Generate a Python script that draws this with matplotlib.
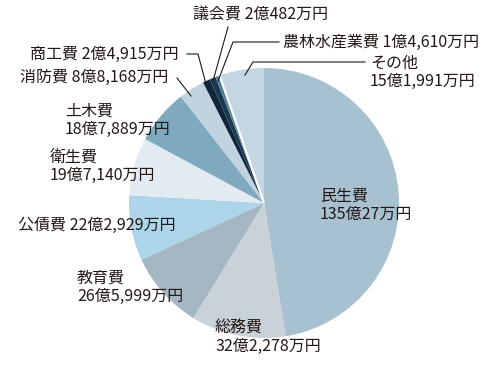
import numpy as np
import matplotlib.pyplot as plt

plt.rcParams['font.family'] = ['Noto Sans CJK JP', 'DejaVu Sans']

# 歳出の内訳（単位：万円）
categories = ["民生費", "総務費", "教育費", "公債費", "衛生費", "土木費",
              "消防費", "商工費", "議会費", "農林水産業費", "その他"]
values = [1350027, 322278, 265999, 222929, 197140, 187889,
          88168, 24915, 20482, 14610, 151991]
value_labels = ["135億27万円", "32億2,278万円", "26億5,999万円", "22億2,929万円",
                "19億7,140万円", "18億7,889万円", "8億8,168万円", "2億4,915万円",
                "2億482万円", "1億4,610万円", "15億1,991万円"]
colors = ["#a7c1d1", "#c9d1d9", "#a4b7c3", "#acd5ea", "#e3ebf2", "#7ea9bf",
          "#c0d3df", "#11253a", "#1a3a4f", "#4f7f99", "#c4d6e1"]

W, H = 495, 372
fig = plt.figure(figsize=(W / 100, H / 100), dpi=100)
ax = fig.add_axes([0, 0, 1, 1])

cx, cy, r = 264, H - 203, 135
wedges, _ = ax.pie(values, colors=colors, startangle=90, counterclock=False,
                   center=(cx, cy), radius=r, wedgeprops=dict(linewidth=0))

# 農林水産業費とその他の間の白い隙間
th = np.deg2rad(wedges[9].theta1)
ax.plot([cx, cx + r * np.cos(th)], [cy, cy + r * np.sin(th)],
        color="white", lw=1.6, solid_capstyle="butt")

ax.set_xlim(0, W)
ax.set_ylim(0, H)
ax.set_aspect("equal")
ax.axis("off")

tc = "#231815"
fs = 11.5

# (x, y中心) 画像座標でのラベル位置。two=True で2行表示
layout = {
    "民生費": (320, 196, True),
    "総務費": (215, 328, True),
    "教育費": (77, 278, True),
    "公債費": (18, 225, False),
    "衛生費": (50, 157, True),
    "土木費": (65, 111, True),
    "消防費": (20, 77, False),
    "商工費": (30, 54, False),
    "議会費": (193, 14, False),
    "農林水産業費": (283, 42, False),
    "その他": (370, 63, True),
}

for name, lab in zip(categories, value_labels):
    x, y, two = layout[name]
    if two:
        ax.text(x, H - y, name, fontsize=fs, color=tc, va="center", ha="left")
        ax.text(x, H - y - 18, lab, fontsize=fs, color=tc, va="center", ha="left")
    else:
        ax.text(x, H - y, name + " " + lab, fontsize=fs, color=tc,
                va="center", ha="left")

# 引き出し線
leaders = [
    [(228, 27), (213, 81)],
    [(279, 42), (233, 42), (218, 81)],
    [(365, 62), (253, 62), (245, 75)],
    [(187, 54), (198, 54), (206, 84)],
    [(177, 78), (191, 96)],
]
for pts in leaders:
    xs = [p[0] for p in pts]
    ys = [H - p[1] for p in pts]
    ax.plot(xs, ys, color=tc, lw=0.8)

plt.savefig("out.png", dpi=100)
